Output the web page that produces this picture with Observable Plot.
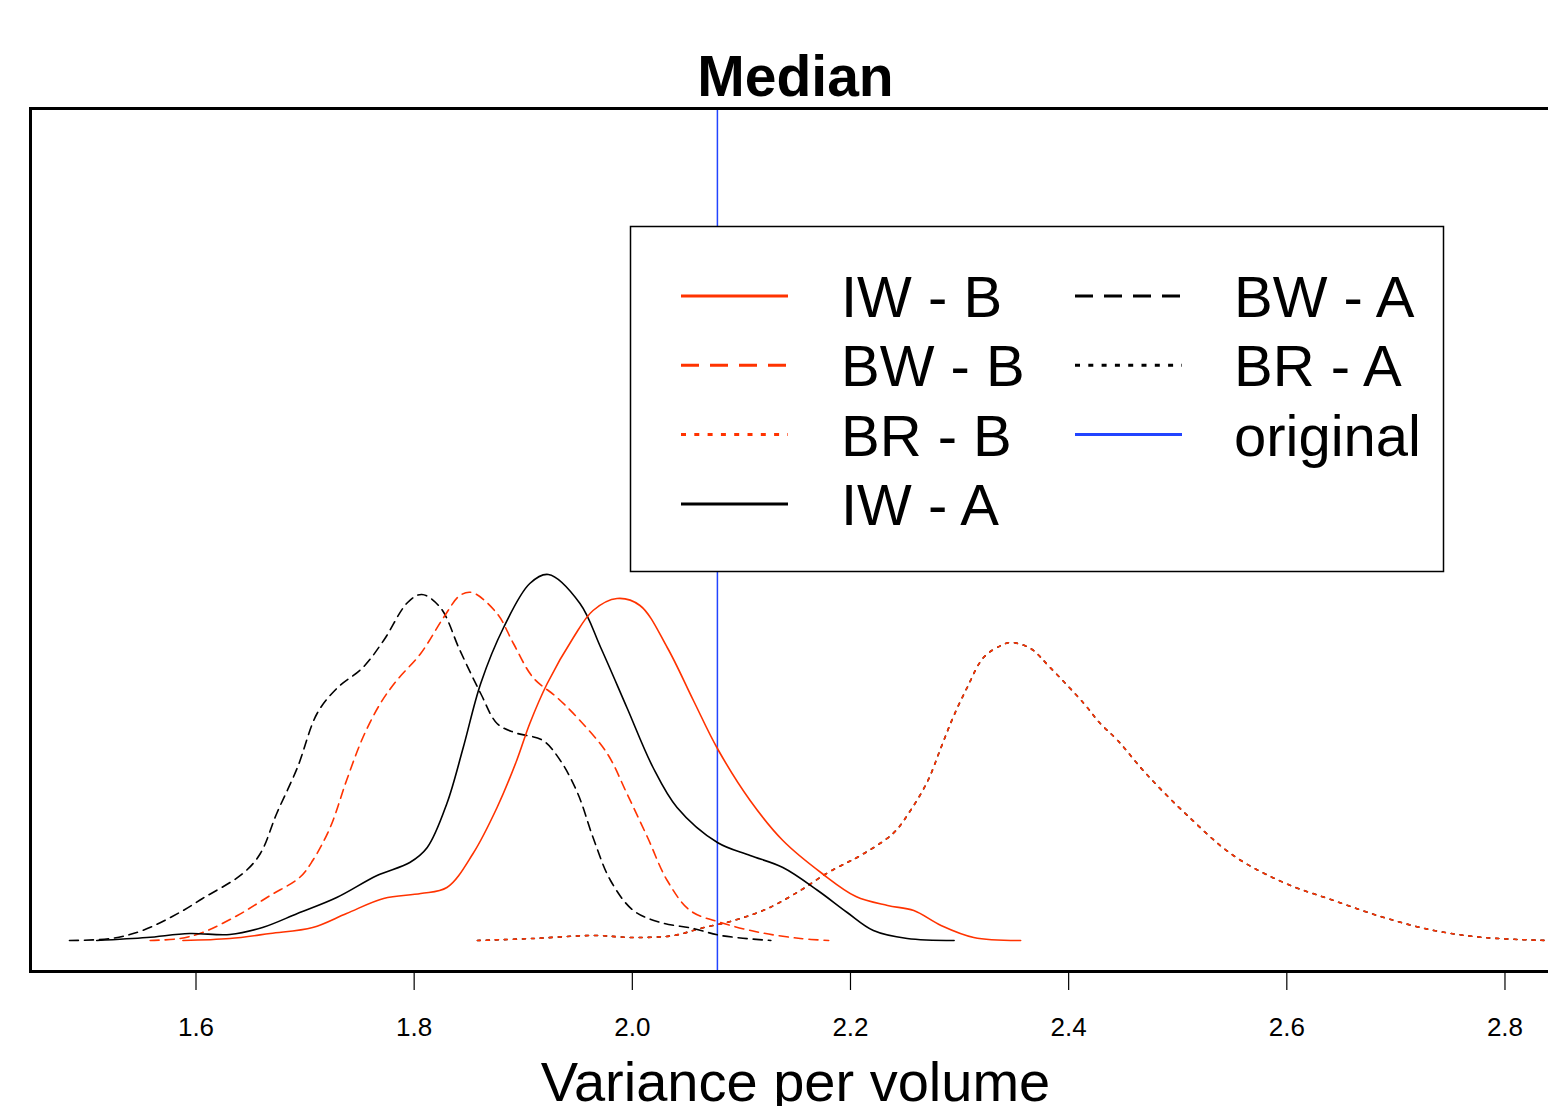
<!DOCTYPE html>
<html><head><meta charset="utf-8">
<script src="https://cdn.jsdelivr.net/npm/d3@7"></script>
<script src="https://cdn.jsdelivr.net/npm/@observablehq/plot@0.6"></script>
<style>
html,body{margin:0;padding:0;background:#fff;overflow:hidden;}
#chart{position:relative;width:1548px;height:1106px;overflow:hidden;}
#chart svg{max-width:none !important;}
</style></head><body><div id="chart"></div>
<script>
// ---- data (density estimates) ----
const xTicks = [1.6, 1.8, 2.0, 2.2, 2.4, 2.6, 2.8];
const titleText = "Median";
const xLabel = "Variance per volume";
const original = [2.078];

const IW_B = [[1.588,0],[1.631,0.02],[1.668,0.07],[1.707,0.13],[1.738,0.27],[1.772,0.42],[1.806,0.47],[1.830,0.53],[1.854,0.87],[1.876,1.33],[1.894,1.80],[1.906,2.17],[1.922,2.57],[1.946,3.03],[1.964,3.30],[1.986,3.42],[2.007,3.35],[2.032,2.93],[2.056,2.40],[2.078,1.92],[2.108,1.40],[2.138,1.00],[2.174,0.67],[2.205,0.44],[2.234,0.35],[2.258,0.30],[2.283,0.15],[2.313,0.03],[2.356,0]];
const BW_B = [[1.558,0],[1.585,0.02],[1.606,0.08],[1.638,0.25],[1.668,0.45],[1.695,0.63],[1.707,0.80],[1.723,1.13],[1.738,1.60],[1.753,2.03],[1.769,2.37],[1.784,2.60],[1.806,2.87],[1.827,3.23],[1.842,3.45],[1.853,3.48],[1.876,3.27],[1.891,2.97],[1.909,2.63],[1.931,2.43],[1.952,2.20],[1.977,1.87],[1.995,1.47],[2.014,1.03],[2.032,0.60],[2.053,0.30],[2.081,0.18],[2.117,0.08],[2.154,0.02],[2.180,0]];
const BR_B = [[1.858,0],[1.909,0.02],[1.964,0.05],[2.001,0.03],[2.038,0.05],[2.062,0.12],[2.093,0.20],[2.124,0.32],[2.154,0.50],[2.178,0.67],[2.197,0.78],[2.206,0.83],[2.239,1.07],[2.255,1.30],[2.271,1.60],[2.283,1.93],[2.294,2.23],[2.307,2.53],[2.322,2.83],[2.338,2.95],[2.347,2.98],[2.365,2.92],[2.383,2.73],[2.414,2.37],[2.429,2.17],[2.445,2.00],[2.470,1.68],[2.506,1.28],[2.551,0.85],[2.597,0.58],[2.643,0.40],[2.689,0.23],[2.735,0.10],[2.781,0.03],[2.839,0]];
const IW_A = [[1.509,0],[1.555,0.03],[1.594,0.07],[1.631,0.06],[1.661,0.13],[1.693,0.27],[1.729,0.43],[1.766,0.65],[1.796,0.78],[1.812,0.93],[1.830,1.37],[1.845,1.93],[1.861,2.57],[1.882,3.13],[1.906,3.57],[1.923,3.66],[1.952,3.37],[1.971,2.93],[1.995,2.33],[2.019,1.73],[2.041,1.33],[2.078,0.98],[2.108,0.85],[2.138,0.73],[2.170,0.50],[2.197,0.28],[2.221,0.10],[2.252,0.02],[2.295,0]];
const BW_A = [[1.484,0],[1.522,0.02],[1.551,0.10],[1.585,0.28],[1.606,0.42],[1.643,0.67],[1.659,0.87],[1.674,1.27],[1.693,1.73],[1.711,2.27],[1.729,2.52],[1.753,2.73],[1.772,3.00],[1.794,3.38],[1.807,3.46],[1.824,3.33],[1.842,2.90],[1.861,2.47],[1.876,2.17],[1.892,2.08],[1.918,2.00],[1.934,1.80],[1.950,1.47],[1.964,1.03],[1.980,0.60],[2.001,0.30],[2.026,0.18],[2.056,0.12],[2.081,0.05],[2.127,0]];
const BR_A = BR_B; // the two BR curves coincide in the reference

// ---- styles ----
const RED = "#ff3300", BLACK = "#000000", BLUE = "#2244ff";
const DASH = "9,6", DOT = "3,6", LDASH = "18,11", LDOT = "5,8.3";
const legendEntries = [
  {name:"IW - B", stroke:RED, dash:null},
  {name:"BW - B", stroke:RED, dash:LDASH},
  {name:"BR - B", stroke:RED, dash:LDOT},
  {name:"IW - A", stroke:BLACK, dash:null},
  {name:"BW - A", stroke:BLACK, dash:LDASH},
  {name:"BR - A", stroke:BLACK, dash:LDOT},
  {name:"original", stroke:BLUE, dash:null}
];
const curveSpecs = [
  {data:BR_A, stroke:BLACK, dash:DOT},
  {data:BR_B, stroke:RED, dash:DOT},
  {data:BW_A, stroke:BLACK, dash:DASH},
  {data:BW_B, stroke:RED, dash:DASH},
  {data:IW_A, stroke:BLACK, dash:null},
  {data:IW_B, stroke:RED, dash:null}
];

const FONT = "'Liberation Sans', Arial, Helvetica, sans-serif";

function legendMark() {
  const g = d3.create("svg:g").attr("font-family", FONT).attr("text-anchor", "start");
  g.append("rect").attr("x", 630.5).attr("y", 226.5).attr("width", 813).attr("height", 345)
    .attr("fill", "white").attr("stroke", "black").attr("stroke-width", 1.5);
  const cols = [{lx:681, tx:841}, {lx:1075, tx:1234}];
  legendEntries.forEach((e, i) => {
    const c = cols[i < 4 ? 0 : 1];
    const r = i < 4 ? i : i - 4;
    const y = 296 + r * 69.3;
    const ln = g.append("line").attr("x1", c.lx).attr("x2", c.lx + 107).attr("y1", y).attr("y2", y)
      .attr("stroke", e.stroke).attr("stroke-width", 3);
    if (e.dash) ln.attr("stroke-dasharray", e.dash);
    g.append("text").attr("x", c.tx).attr("y", y + 21).attr("font-size", 58)
      .attr("text-anchor", "start").attr("fill", "black").text(e.name);
  });
  return g.node();
}

const lineMarks = curveSpecs.map(s => Plot.line(s.data, {
  x: d => d[0], y: d => d[1], stroke: s.stroke, strokeWidth: 1.6,
  strokeDasharray: s.dash || undefined, curve: "catmull-rom", clip: true
}));

const plot = Plot.plot({
  width: 1560, height: 1106,
  marginTop: 108, marginBottom: 135, marginLeft: 30, marginRight: 0,
  x: {domain: [1.44828, 2.8509]},
  y: {domain: [-0.31, 8.32], axis: null},
  style: {fontFamily: FONT, background: "white", overflow: "visible", maxWidth: "none"},
  marks: [
    Plot.ruleX(original, {stroke: BLUE, strokeWidth: 1.5}),
    ...lineMarks,
    legendMark,
    Plot.frame({stroke: "black", strokeWidth: 3}),
    Plot.axisX(xTicks, {tickSize: 19, tickPadding: 27, fontSize: 26, label: null,
      tickFormat: d3.format(".1f"), strokeWidth: 1.2}),
    Plot.text([titleText], {text: d => d, frameAnchor: "top", lineAnchor: "bottom", dy: -13,
      fontSize: 57, fontWeight: "bold"}),
    Plot.text([xLabel], {text: d => d, frameAnchor: "bottom", lineAnchor: "bottom", dy: 129,
      fontSize: 56})
  ]
});
document.getElementById("chart").appendChild(plot);
</script></body></html>
